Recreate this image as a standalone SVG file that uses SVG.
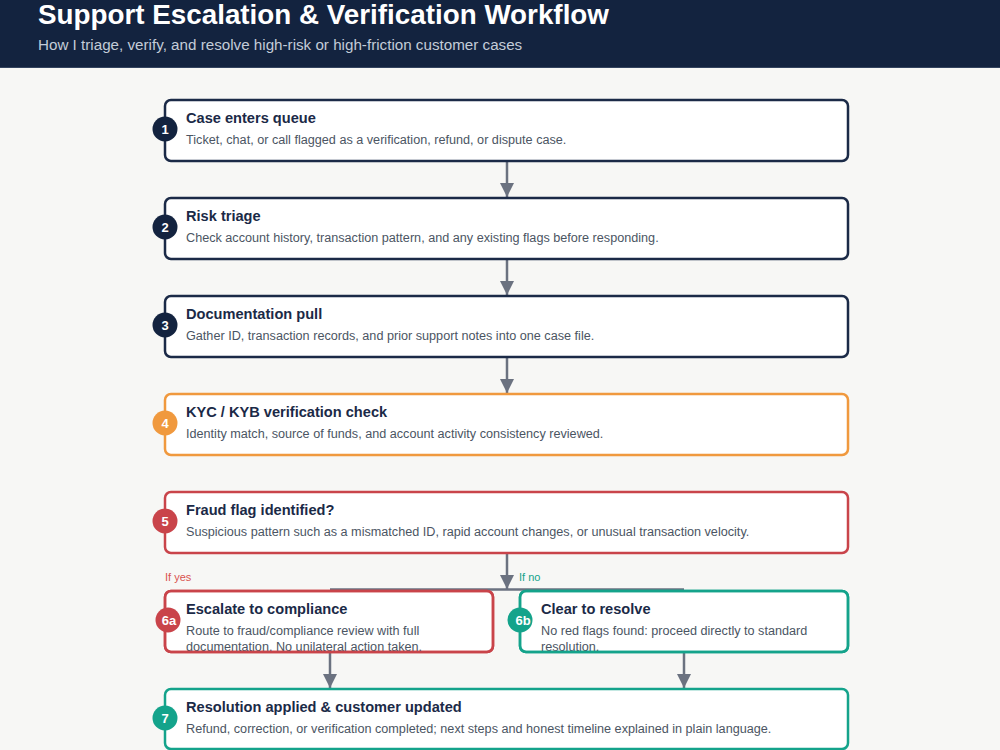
<svg xmlns="http://www.w3.org/2000/svg" width="1000" height="750" viewBox="0 0 1000 750">
<defs>
<style>
.bg{fill:#f7f7f5}
.hdr{fill:#13233f}
.h1{font-family:"Liberation Sans",Arial,sans-serif;font-weight:bold;font-size:27.8px;fill:#ffffff}
.h2{font-family:"Liberation Sans",Arial,sans-serif;font-size:15.2px;fill:#c3ccd8}
.box{fill:#ffffff;stroke-width:2.5}
.frame{fill:none;stroke-width:2.5}
.navy{stroke:#1b2a47}
.orange{stroke:#f0993e}
.red{stroke:#c9444a}
.teal{stroke:#14a38b}
.t{font-family:"Liberation Sans",Arial,sans-serif;font-weight:bold;font-size:14.6px;fill:#1b2a47}
.d{font-family:"Liberation Sans",Arial,sans-serif;font-size:12.65px;fill:#4b5563}
.n{font-family:"Liberation Sans",Arial,sans-serif;font-weight:bold;font-size:13px;fill:#ffffff;text-anchor:middle}
.conn{stroke:#6b7280;stroke-width:2.5;fill:none}
.lbl{font-family:"Liberation Sans",Arial,sans-serif;font-size:11px}
</style>
<marker id="ah" markerWidth="14" markerHeight="14" viewBox="0 0 14 14" refX="14" refY="7" orient="auto" markerUnits="userSpaceOnUse">
<path d="M0,0 L14,7 L0,14 Z" fill="#6b7280"/>
</marker>
<clipPath id="c6a"><rect x="165" y="591" width="328" height="61" rx="6"/></clipPath>
<clipPath id="c6b"><rect x="520" y="591" width="328" height="61" rx="6"/></clipPath>
</defs>
<rect class="bg" x="0" y="0" width="1000" height="750"/>
<g id="header">
<rect class="hdr" x="0" y="0" width="1000" height="67"/>
<rect x="0" y="67" width="1000" height="1" fill="#34445f"/>
<text class="h1" x="38" y="24">Support Escalation &amp; Verification Workflow</text>
<text class="h2" x="38" y="50">How I triage, verify, and resolve high-risk or high-friction customer cases</text>
</g>
<g id="connectors">
<line class="conn" x1="507" y1="162" x2="507" y2="197" marker-end="url(#ah)"/>
<line class="conn" x1="507" y1="260" x2="507" y2="295" marker-end="url(#ah)"/>
<line class="conn" x1="507" y1="358" x2="507" y2="393" marker-end="url(#ah)"/>
<line class="conn" x1="330" y1="589.5" x2="684" y2="589.5"/>
<line class="conn" x1="507" y1="554" x2="507" y2="589" marker-end="url(#ah)"/>
<line class="conn" x1="330" y1="653" x2="330" y2="688" marker-end="url(#ah)"/>
<line class="conn" x1="684" y1="653" x2="684" y2="688" marker-end="url(#ah)"/>
<text class="lbl" x="165" y="581" fill="#d9534f">If yes</text>
<text class="lbl" x="519" y="581" fill="#14a38b">If no</text>
</g>
<g id="n1">
<rect class="box navy" x="165" y="100" width="683" height="61" rx="6"/>
<circle cx="165" cy="129" r="12.5" fill="#13233f"/>
<text class="n" x="165" y="134">1</text>
<text class="t" x="186" y="123">Case enters queue</text>
<text class="d" x="186" y="144">Ticket, chat, or call flagged as a verification, refund, or dispute case.</text>
</g>
<g id="n2">
<rect class="box navy" x="165" y="198" width="683" height="61" rx="6"/>
<circle cx="165" cy="227" r="12.5" fill="#13233f"/>
<text class="n" x="165" y="232">2</text>
<text class="t" x="186" y="221">Risk triage</text>
<text class="d" x="186" y="242">Check account history, transaction pattern, and any existing flags before responding.</text>
</g>
<g id="n3">
<rect class="box navy" x="165" y="296" width="683" height="61" rx="6"/>
<circle cx="165" cy="325" r="12.5" fill="#13233f"/>
<text class="n" x="165" y="330">3</text>
<text class="t" x="186" y="319">Documentation pull</text>
<text class="d" x="186" y="340">Gather ID, transaction records, and prior support notes into one case file.</text>
</g>
<g id="n4">
<rect class="box orange" x="165" y="394" width="683" height="61" rx="6"/>
<circle cx="165" cy="423" r="12.5" fill="#f0993e"/>
<text class="n" x="165" y="428">4</text>
<text class="t" x="186" y="417">KYC / KYB verification check</text>
<text class="d" x="186" y="438">Identity match, source of funds, and account activity consistency reviewed.</text>
</g>
<g id="n5">
<rect class="box red" x="165" y="492" width="683" height="61" rx="6"/>
<circle cx="165" cy="521" r="12.5" fill="#c9444a"/>
<text class="n" x="165" y="526">5</text>
<text class="t" x="186" y="515">Fraud flag identified?</text>
<text class="d" x="186" y="536">Suspicious pattern such as a mismatched ID, rapid account changes, or unusual transaction velocity.</text>
</g>
<g id="n6a">
<rect class="box red" x="165" y="591" width="328" height="61" rx="6"/>
<g clip-path="url(#c6a)">
<text class="t" x="186" y="614">Escalate to compliance</text>
<text class="d" x="186" y="635">Route to fraud/compliance review with full</text>
<text class="d" x="186" y="651">documentation. No unilateral action taken.</text>
</g>
<rect class="frame red" x="165" y="591" width="328" height="61" rx="6"/>
<circle cx="168" cy="620" r="12.5" fill="#c9444a"/>
<text class="n" x="169" y="625">6a</text>
</g>
<g id="n6b">
<rect class="box teal" x="520" y="591" width="328" height="61" rx="6"/>
<g clip-path="url(#c6b)">
<text class="t" x="541" y="614">Clear to resolve</text>
<text class="d" x="541" y="635">No red flags found: proceed directly to standard</text>
<text class="d" x="541" y="651">resolution.</text>
</g>
<rect class="frame teal" x="520" y="591" width="328" height="61" rx="6"/>
<circle cx="520" cy="620" r="12.5" fill="#14a38b"/>
<text class="n" x="523" y="625">6b</text>
</g>
<g id="n7">
<rect class="box teal" x="165" y="689" width="683" height="60" rx="6"/>
<circle cx="165" cy="718" r="12.5" fill="#14a38b"/>
<text class="n" x="165" y="723">7</text>
<text class="t" x="186" y="712">Resolution applied &amp; customer updated</text>
<text class="d" x="186" y="733">Refund, correction, or verification completed; next steps and honest timeline explained in plain language.</text>
</g>
</svg>
